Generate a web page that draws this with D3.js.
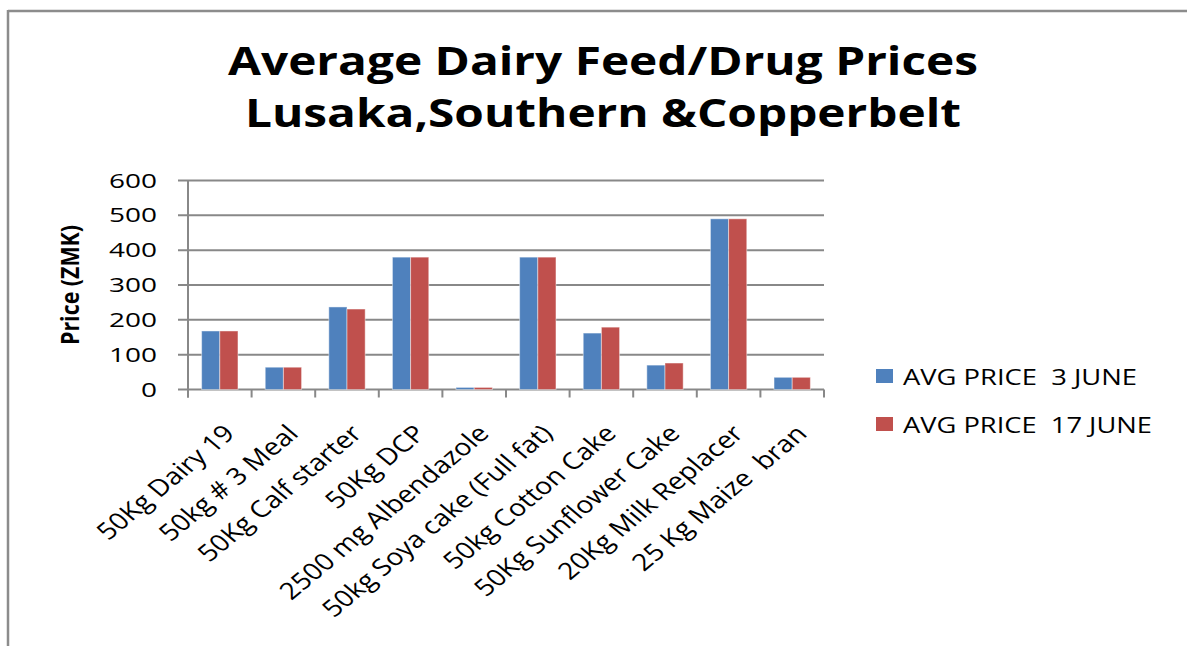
<!DOCTYPE html>
<html>
<head>
<meta charset="utf-8">
<script src="https://cdn.jsdelivr.net/npm/d3@7"></script>
<style>
  html, body { margin: 0; padding: 0; background: #fff; }
  svg { display: block; }
  text { font-family: "Open Sans", sans-serif; fill: #000; }
</style>
</head>
<body>
<svg id="chart" width="1187" height="646"></svg>
<script>
// categories and the two price series (ZMK)
var categories = [
    "50Kg Dairy 19",
    "50kg # 3 Meal",
    "50Kg Calf starter",
    "50Kg DCP",
    "2500 mg Albendazole",
    "50kg Soya cake (Full fat)",
    "50kg Cotton Cake",
    "50Kg Sunflower Cake",
    "20Kg Milk Replacer",
    "25 Kg Maize  bran"
];
var price3June = [168, 64, 237, 380, 6, 380, 162, 70, 490, 35];
var price17June = [168, 64, 231, 380, 6, 380, 179, 76, 490, 35];
var seriesNames = ["AVG PRICE  3 JUNE", "AVG PRICE  17 JUNE"];
var seriesColors = ["#4F81BD", "#C0504D"];
var yTicks = [0, 100, 200, 300, 400, 500, 600];

var svg = d3.select("#chart");
var gray = "#888888";

// chart frame (only top and left edges show)
svg.append("line").attr("x1", 8).attr("x2", 1187).attr("y1", 11).attr("y2", 11)
    .attr("stroke", "#8c8c8c").attr("stroke-width", 2.5);
svg.append("line").attr("x1", 8).attr("x2", 8).attr("y1", 10).attr("y2", 646)
    .attr("stroke", "#8c8c8c").attr("stroke-width", 2.5);

// title
var titleLines = [
    {text: "Average Dairy Feed/Drug Prices", y: 75, len: 750},
    {text: "Lusaka,Southern &Copperbelt", y: 127, len: 716}
];
svg.selectAll(".title").data(titleLines).enter().append("text")
    .attr("class", "title")
    .attr("x", 603).attr("y", function (d) { return d.y; })
    .attr("text-anchor", "middle")
    .attr("textLength", function (d) { return d.len; })
    .attr("lengthAdjust", "spacingAndGlyphs")
    .style("font-size", "40px").style("font-weight", "bold")
    .text(function (d) { return d.text; });

// scales
var left = 188, right = 824;
var y = d3.scaleLinear().domain([0, 600]).range([389.5, 180.5]);
var x0 = d3.scaleBand().domain(categories).range([left, right])
    .paddingInner(0.4286).paddingOuter(0.2143);
var x1 = d3.scaleBand().domain([0, 1]).range([0, x0.bandwidth()]);

// gridlines + y ticks
svg.selectAll(".grid").data(yTicks).enter().append("line")
    .attr("class", "grid")
    .attr("x1", left - 10).attr("x2", right)
    .attr("y1", function (d) { return y(d); }).attr("y2", function (d) { return y(d); })
    .attr("stroke", gray).attr("stroke-width", 2);

// y tick labels (stretched a bit wider like the source)
svg.selectAll(".ylab").data(yTicks).enter().append("text")
    .attr("class", "ylab")
    .attr("x", 157).attr("y", function (d) { return y(d) + 7; })
    .attr("text-anchor", "end")
    .attr("textLength", function (d) { return String(d).length * 16; })
    .attr("lengthAdjust", "spacingAndGlyphs")
    .style("font-size", "19.5px")
    .text(function (d) { return d; });

// y axis line
svg.append("line").attr("x1", left).attr("x2", left)
    .attr("y1", y(600)).attr("y2", y(0) + 8)
    .attr("stroke", gray).attr("stroke-width", 2);

// category boundary ticks
var bounds = d3.range(categories.length + 1).map(function (i) { return left + i * x0.step(); });
svg.selectAll(".xtick").data(bounds).enter().append("line")
    .attr("class", "xtick")
    .attr("x1", function (d) { return d; }).attr("x2", function (d) { return d; })
    .attr("y1", y(0)).attr("y2", y(0) + 8)
    .attr("stroke", gray).attr("stroke-width", 2);

// bars
var rows = categories.map(function (c, i) {
    return {cat: c, vals: [price3June[i], price17June[i]]};
});
var groups = svg.selectAll(".cat").data(rows).enter().append("g")
    .attr("class", "cat")
    .attr("transform", function (d) { return "translate(" + x0(d.cat) + ",0)"; });
groups.selectAll("rect").data(function (d) { return d.vals; }).enter().append("rect")
    .attr("x", function (d, i) { return x1(i); })
    .attr("width", x1.bandwidth())
    .attr("y", function (d) { return y(d); })
    .attr("height", function (d) { return y(0) - y(d); })
    .attr("fill", function (d, i) { return seriesColors[i]; })
    .attr("stroke", "rgba(255,255,255,0.45)").attr("stroke-width", 1);

// x labels, rotated and stretched horizontally
svg.selectAll(".xlab").data(categories).enter().append("g")
    .attr("class", "xlab")
    .attr("transform", function (d) {
        var cx = x0(d) + x0.bandwidth() / 2;
        return "translate(" + (cx + 2) + ",423) scale(1.2,1) rotate(-45)";
    })
    .append("text")
    .attr("text-anchor", "end")
    .attr("dy", "0.72em")
    .style("font-size", "23.5px")
    .style("white-space", "pre")
    .text(function (d) { return d; });

// y axis title
svg.append("text")
    .attr("transform", "translate(79,285) rotate(-90)")
    .attr("text-anchor", "middle")
    .attr("textLength", 120).attr("lengthAdjust", "spacingAndGlyphs")
    .style("font-size", "25px").style("font-weight", "bold")
    .text("Price (ZMK)");

// legend
var legend = svg.selectAll(".legend").data(seriesNames).enter().append("g")
    .attr("class", "legend")
    .attr("transform", function (d, i) { return "translate(876," + (369 + i * 48) + ")"; });
legend.append("rect").attr("width", 17).attr("height", 14)
    .attr("fill", function (d, i) { return seriesColors[i]; });
legend.append("text")
    .attr("x", 27).attr("y", 16)
    .attr("textLength", function (d, i) { return i === 0 ? 234 : 249; })
    .attr("lengthAdjust", "spacingAndGlyphs")
    .style("font-size", "21px")
    .style("white-space", "pre")
    .text(function (d) { return d; });
</script>
</body>
</html>
